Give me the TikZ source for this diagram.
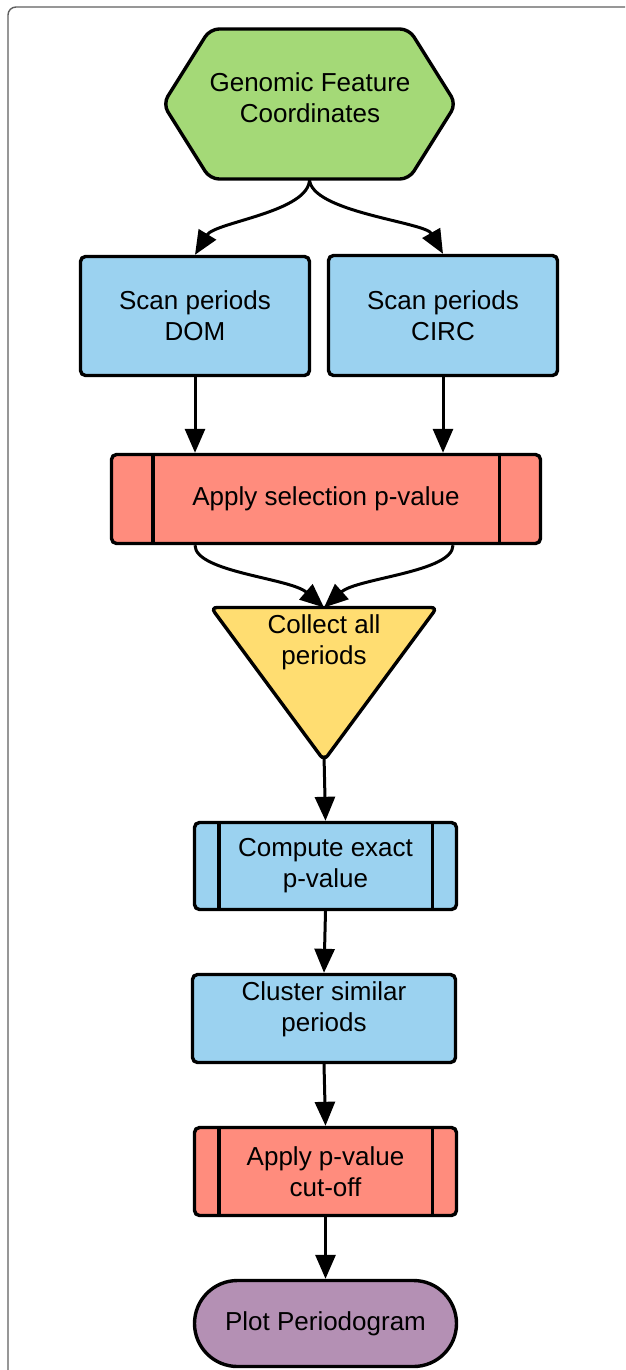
\documentclass[tikz,border=0pt]{standalone}
\usepackage{fontspec}
\setmainfont{Liberation Sans}
\usetikzlibrary{arrows.meta,shapes.misc}
\definecolor{cgreen}{RGB}{164,217,119}
\definecolor{cblue}{RGB}{155,210,240}
\definecolor{cred}{RGB}{255,140,125}
\definecolor{cyellow}{RGB}{255,221,113}
\definecolor{cpurple}{RGB}{180,144,180}
\definecolor{cframe}{RGB}{95,95,95}
\begin{document}
\begin{tikzpicture}[x=1pt,y=-1pt,
  font=\fontsize{26}{31}\selectfont,
  box/.style={draw=black, line width=3.4pt, rounded corners=5pt, inner sep=0pt, align=center},
  shapebox/.style={inner sep=0pt, outer sep=0pt},
  txt/.style={align=center, inner sep=0pt},
  arr/.style={draw=black, line width=3pt, -{Triangle[length=24pt,width=20pt]}},
  bar/.style={draw=black, line width=3.4pt},
]
\useasboundingbox (0,0) rectangle (625,1370);
\clip (0,0) rectangle (625,1370);
% frame
\draw[cframe, line width=1.4pt, rounded corners=8pt] (8,1420) -- (8,7) -- (680,7);

% hexagon
\node[shapebox, minimum width=293pt, minimum height=150pt] (gen) at (309.5,104) {};
\filldraw[fill=cgreen, draw=black, line width=3.4pt, rounded corners=9pt]
  (gen.north) -- ([xshift=-47pt]gen.north east) -- (gen.east) -- ([xshift=-47pt]gen.south east)
  -- ([xshift=47pt]gen.south west) -- (gen.west) -- ([xshift=47pt]gen.north west) -- cycle;
\node[txt] (gent) at (310,97.5) {Genomic Feature\\Coordinates};

% scan boxes
\node[box, fill=cblue, minimum width=229pt, minimum height=119pt] (dom) at (195,316) {Scan periods\\DOM};
\node[box, fill=cblue, minimum width=229pt, minimum height=120pt] (circ) at (443,315.5) {Scan periods\\CIRC};

% selection
\node[box, fill=cred, minimum width=429pt, minimum height=89pt] (sel) at (326,499) {Apply selection p-value};
\draw[bar] ([xshift=43pt]sel.north west) -- ([xshift=43pt]sel.south west);
\draw[bar] ([xshift=-43pt]sel.north east) -- ([xshift=-43pt]sel.south east);

% triangle
\node[shapebox, minimum width=226pt, minimum height=153pt] (coll) at (324,684) {};
\filldraw[fill=cyellow, draw=black, line width=3.4pt, rounded corners=6pt]
  (coll.north) -- (coll.north east) -- (coll.south) -- (coll.north west) -- cycle;
\node[txt] (collt) at (324,642) {Collect all\\periods};

% compute
\node[box, fill=cblue, minimum width=262pt, minimum height=87pt] (comp) at (325.5,866) {Compute exact\\p-value};
\draw[bar] ([xshift=26pt]comp.north west) -- ([xshift=26pt]comp.south west);
\draw[bar] ([xshift=-26pt]comp.north east) -- ([xshift=-26pt]comp.south east);

% cluster
\node[box, fill=cblue, minimum width=263pt, minimum height=88pt] (clu) at (324,1018.5) {};
\node[txt] (clut) at (324,1009) {Cluster similar\\periods};

% cut-off
\node[box, fill=cred, minimum width=262pt, minimum height=88pt] (cut) at (325.5,1171.5) {Apply p-value\\cut-off};
\draw[bar] ([xshift=26pt]cut.north west) -- ([xshift=26pt]cut.south west);
\draw[bar] ([xshift=-26pt]cut.north east) -- ([xshift=-26pt]cut.south east);

% plot
\node[draw=black, line width=3.4pt, fill=cpurple, rounded rectangle, inner sep=0pt,
      minimum width=262pt, minimum height=86pt] (plot) at (325.5,1323.5) {Plot Periodogram};

% connectors
\draw[arr] (gen.south) .. controls (310,212) and (215,222) .. (dom.north);
\draw[arr] (gen.south) .. controls (310,212) and (425,222) .. (circ.north);
\draw[arr] (dom.south) -- (dom.south |- sel.north);
\draw[arr] (circ.south) -- (circ.south |- sel.north);
\draw[arr] ([xshift=-131pt]sel.south) .. controls +(0,27) and (290,578) .. (coll.north);
\draw[arr] ([xshift=127pt]sel.south) .. controls +(0,27) and (357,578) .. (coll.north);
\draw[arr] ([yshift=5pt]coll.south) -- (comp.north);
\draw[arr] (comp.south) -- (clu.north);
\draw[arr] (clu.south) -- (cut.north);
\draw[arr] (cut.south) -- (plot.north);
\end{tikzpicture}
\end{document}
